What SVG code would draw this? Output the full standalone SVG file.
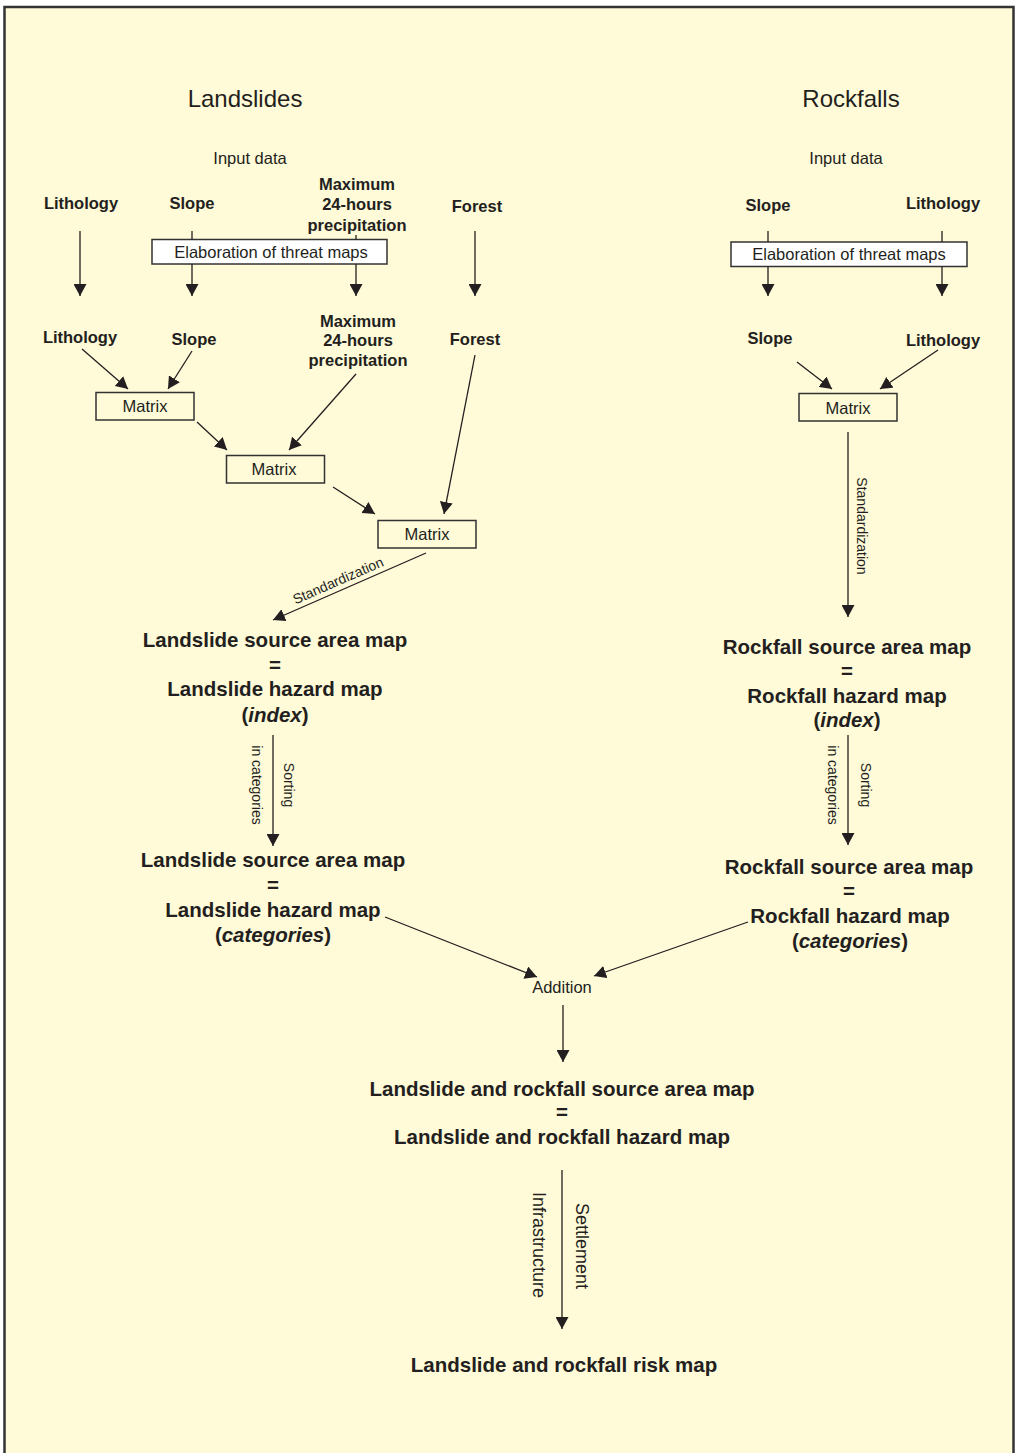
<svg xmlns="http://www.w3.org/2000/svg" width="1016" height="1453" viewBox="0 0 1016 1453">
<style>
  text { font-family: "Liberation Sans", Arial, sans-serif; fill: #231f20; text-anchor: middle; }
  .title { font-size: 24px; }
  .reg { font-size: 16.5px; }
  .lab { font-size: 16.5px; font-weight: bold; }
  .big { font-size: 20.5px; font-weight: bold; }
  .small { font-size: 14px; }
  .mid { font-size: 18px; }
  .box { fill: none; stroke: #333; stroke-width: 1.5; }
  .wbox { fill: #fff; stroke: #333; stroke-width: 1.5; }
  .conn line, .conn path { stroke: #231f20; stroke-width: 1.3; fill: none; }
  .arr { marker-end: url(#ah); }
</style>
<defs>
  <marker id="ah" viewBox="0 0 12 13" refX="12" refY="6.5" markerWidth="12" markerHeight="13" markerUnits="userSpaceOnUse" orient="auto">
    <path d="M0,0 L12,6.5 L0,13 z" fill="#231f20"/>
  </marker>
</defs>
<rect x="0" y="0" width="1016" height="1453" fill="#fff"/>
<rect x="4.5" y="7" width="1009" height="1460" fill="#FFFAD8" stroke="#333" stroke-width="2.5"/>

<g id="title-landslides"><text class="title" x="245" y="107">Landslides</text></g>
<g id="title-rockfalls"><text class="title" x="851" y="107">Rockfalls</text></g>
<g id="input-left"><text class="reg" x="250" y="164">Input data</text></g>
<g id="input-right"><text class="reg" x="846" y="164">Input data</text></g>

<!-- Left input row -->
<g id="l-litho1"><text class="lab" x="81" y="209">Lithology</text></g>
<g id="l-slope1"><text class="lab" x="192" y="209">Slope</text></g>
<g id="l-precip1"><text class="lab" x="357" y="190">Maximum</text><text class="lab" x="357" y="210">24-hours</text><text class="lab" x="357" y="231">precipitation</text></g>
<g id="l-forest1"><text class="lab" x="477" y="212">Forest</text></g>
<g id="l-elab"><rect class="wbox" x="152" y="239.5" width="235" height="24.5"/><text class="reg" x="271" y="257.5">Elaboration of threat maps</text></g>

<!-- Left second row -->
<g id="l-litho2"><text class="lab" x="80" y="343">Lithology</text></g>
<g id="l-slope2"><text class="lab" x="194" y="345">Slope</text></g>
<g id="l-precip2"><text class="lab" x="358" y="327">Maximum</text><text class="lab" x="358" y="346">24-hours</text><text class="lab" x="358" y="366">precipitation</text></g>
<g id="l-forest2"><text class="lab" x="475" y="345">Forest</text></g>

<g id="l-matrix1"><rect class="box" x="96" y="392.5" width="98" height="27.5"/><text class="reg" x="145" y="412">Matrix</text></g>
<g id="l-matrix2"><rect class="box" x="226.5" y="455.5" width="98" height="27.5"/><text class="reg" x="274" y="475">Matrix</text></g>
<g id="l-matrix3"><rect class="box" x="378" y="520.5" width="98" height="27.5"/><text class="reg" x="427" y="540">Matrix</text></g>

<g id="l-index"><text class="big" x="275" y="647">Landslide source area map</text><text class="big" x="275" y="672">=</text><text class="big" x="275" y="696">Landslide hazard map</text><text class="big" x="275" y="722">(<tspan font-style="italic">index</tspan>)</text></g>
<g id="l-cat"><text class="big" x="273" y="867">Landslide source area map</text><text class="big" x="273" y="892">=</text><text class="big" x="273" y="917">Landslide hazard map</text><text class="big" x="273" y="942">(<tspan font-style="italic">categories</tspan>)</text></g>

<!-- Right side -->
<g id="r-slope1"><text class="lab" x="768" y="211">Slope</text></g>
<g id="r-litho1"><text class="lab" x="943" y="209">Lithology</text></g>
<g id="r-elab"><rect class="wbox" x="731" y="242" width="236" height="24.5"/><text class="reg" x="849" y="260">Elaboration of threat maps</text></g>
<g id="r-slope2"><text class="lab" x="770" y="344">Slope</text></g>
<g id="r-litho2"><text class="lab" x="943" y="346">Lithology</text></g>
<g id="r-matrix"><rect class="box" x="799" y="393.5" width="98" height="27.5"/><text class="reg" x="848" y="413.5">Matrix</text></g>
<g id="r-index"><text class="big" x="847" y="654">Rockfall source area map</text><text class="big" x="847" y="678">=</text><text class="big" x="847" y="703">Rockfall hazard map</text><text class="big" x="847" y="727">(<tspan font-style="italic">index</tspan>)</text></g>
<g id="r-cat"><text class="big" x="849" y="874">Rockfall source area map</text><text class="big" x="849" y="898">=</text><text class="big" x="850" y="923">Rockfall hazard map</text><text class="big" x="850" y="948">(<tspan font-style="italic">categories</tspan>)</text></g>

<!-- Bottom -->
<g id="addition"><text class="reg" x="562" y="993">Addition</text></g>
<g id="combined"><text class="big" x="562" y="1096">Landslide and rockfall source area map</text><text class="big" x="562" y="1119">=</text><text class="big" x="562" y="1144">Landslide and rockfall hazard map</text></g>
<g id="risk"><text class="big" x="564" y="1372">Landslide and rockfall risk map</text></g>

<g id="connectors" class="conn">
  <line class="arr" x1="80" y1="231" x2="80" y2="296"/>
  <line x1="192" y1="231" x2="192" y2="239.5"/>
  <line class="arr" x1="192" y1="264" x2="192" y2="296"/>
  <line x1="356" y1="235" x2="356" y2="239.5"/>
  <line class="arr" x1="356" y1="264" x2="356" y2="296"/>
  <line class="arr" x1="475" y1="231" x2="475" y2="296"/>

  <line class="arr" x1="82" y1="349" x2="128" y2="389"/>
  <line class="arr" x1="192" y1="351" x2="168" y2="389"/>
  <line class="arr" x1="197" y1="422" x2="227" y2="450"/>
  <line class="arr" x1="356" y1="374" x2="289" y2="450"/>
  <line class="arr" x1="333" y1="487" x2="375" y2="514"/>
  <line class="arr" x1="475" y1="355" x2="444" y2="514"/>
  <line class="arr" x1="426" y1="553" x2="273" y2="620"/>
  <line class="arr" x1="273" y1="735" x2="273" y2="846"/>

  <line x1="768" y1="231" x2="768" y2="242"/>
  <line class="arr" x1="768" y1="266.5" x2="768" y2="296"/>
  <line x1="942" y1="231" x2="942" y2="242"/>
  <line class="arr" x1="942" y1="266.5" x2="942" y2="296"/>
  <line class="arr" x1="797" y1="362" x2="832" y2="389"/>
  <line class="arr" x1="938" y1="350" x2="880" y2="389"/>
  <line class="arr" x1="848" y1="432" x2="848" y2="617"/>
  <line class="arr" x1="848" y1="735" x2="848" y2="845"/>

  <line class="arr" x1="385" y1="917" x2="537" y2="977"/>
  <line class="arr" x1="748" y1="922" x2="594" y2="976"/>
  <line class="arr" x1="563" y1="1005" x2="563" y2="1062"/>
  <line class="arr" x1="562" y1="1170" x2="562" y2="1329"/>
</g>

<g id="connector-labels">
  <text class="small" transform="translate(340,585) rotate(-23.6)">Standardization</text>
  <text class="small" transform="translate(284,785) rotate(90)">Sorting</text>
  <text class="small" transform="translate(252,785) rotate(90)">in categories</text>
  <text class="small" transform="translate(857,526) rotate(90)">Standardization</text>
  <text class="small" transform="translate(861,785) rotate(90)">Sorting</text>
  <text class="small" transform="translate(828,785) rotate(90)">in categories</text>
  <text class="mid" transform="translate(533,1245) rotate(90)">Infrastructure</text>
  <text class="mid" transform="translate(576,1246) rotate(90)">Settlement</text>
</g>
</svg>
